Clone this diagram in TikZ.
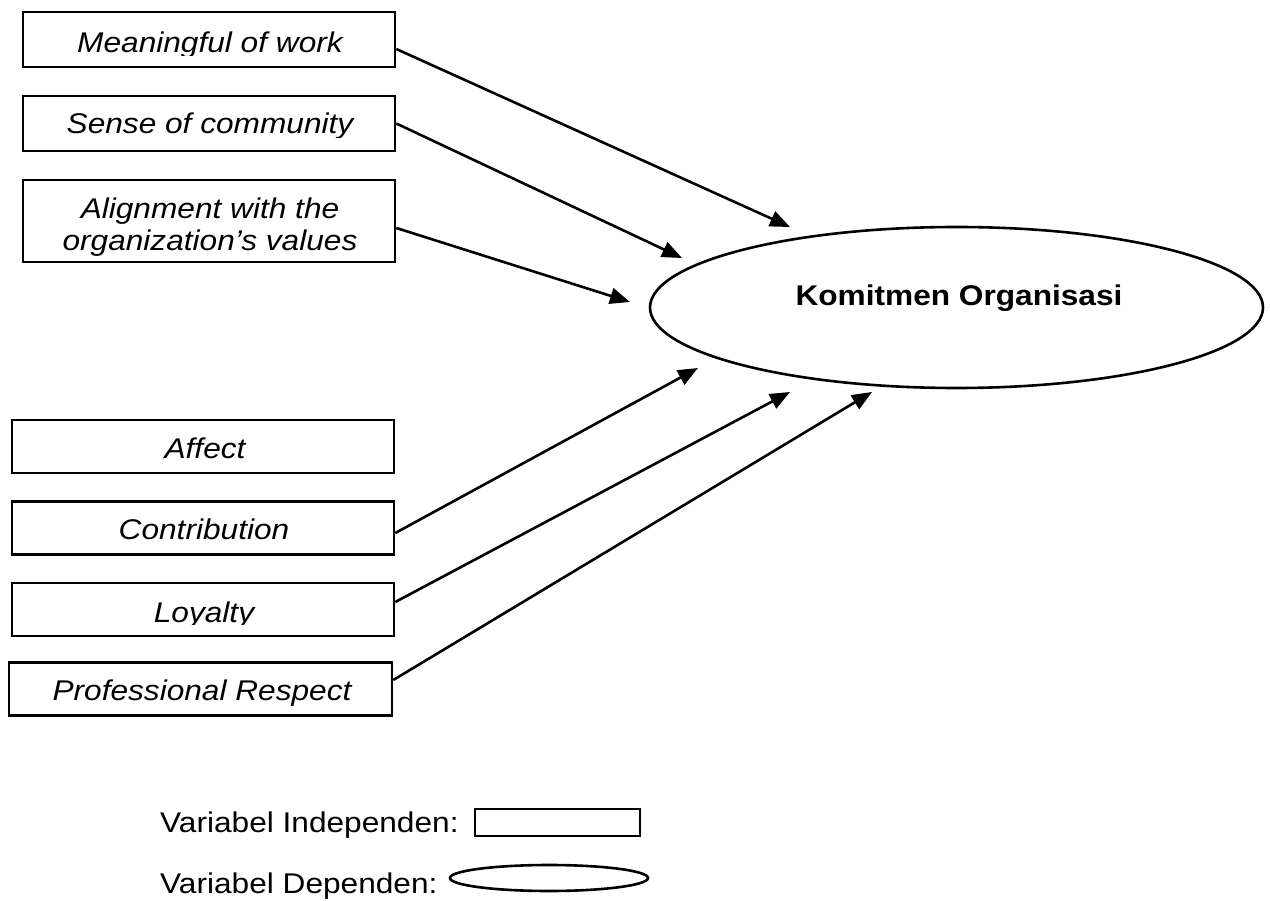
\documentclass[tikz,border=0pt]{standalone}
\usepackage{fontspec}
\setmainfont{Liberation Sans}[FakeStretch=1.11]
\usetikzlibrary{arrows.meta,shapes.geometric}

\tikzset{
  varbox/.style={draw, line width=2.6pt, minimum width=372pt, minimum height=55pt, inner sep=0pt},
  varlabel/.style={inner sep=0pt, font=\fontsize{28.5}{32}\selectfont\itshape},
  legendtext/.style={inner sep=0pt, anchor=base west, font=\fontsize{28.5}{32}\selectfont},
  link/.style={line width=2.6pt, -{Triangle[length=20pt,width=16pt]}},
}

\begin{document}
\begin{tikzpicture}[x=1pt,y=-1pt]
  \useasboundingbox (0,0) rectangle (1270,901);
  % independent variables, upper group
  \node[varbox] (meaning) at (209,39.5) {};
  \node[varbox] (community) at (209,123.5) {};
  \node[varbox, minimum height=82pt] (alignment) at (209,221) {};
  \begin{scope}
    \clip (23,12) rectangle (395,56);
    \node[varlabel, anchor=base] (meaningText) at (210,53) {Meaningful of work};
  \end{scope}
  \begin{scope}
    \clip (23,96) rectangle (395,138);
    \node[varlabel, anchor=base] (communityText) at (210,134) {Sense of community};
  \end{scope}
  \node[varlabel, align=center] (alignmentText) at (210,227)
    {Alignment with the\\organization’s values};
  % independent variables, lower group
  \node[varbox, minimum width=382pt, minimum height=53pt] (affect) at (203,446.5) {};
  \node[varbox, minimum width=382pt, minimum height=53pt] (contribution) at (203,528) {};
  \node[varbox, minimum width=382pt, minimum height=53pt] (loyalty) at (203,609.5) {};
  \node[varbox, minimum width=383pt, minimum height=53pt] (respect) at (200.5,689) {};
  \node[varlabel, anchor=base] (affectText) at (205,458) {Affect};
  \node[varlabel, anchor=base] (contributionText) at (204,539) {Contribution};
  \begin{scope}
    \clip (12,583) rectangle (394,624);
    \node[varlabel, anchor=base] (loyaltyText) at (204,622) {Loyalty};
  \end{scope}
  \node[varlabel, anchor=base] (respectText) at (202,700) {Professional Respect};
  % dependent variable
  \node[draw, ellipse, line width=2.6pt, minimum width=613pt, minimum height=161pt,
    inner sep=0pt] (komitmen) at (956.5,307.5) {};
  \node[inner sep=0pt, anchor=base, font=\fontsize{28.5}{32}\selectfont\bfseries]
    (komitmenText) at (959,306) {Komitmen Organisasi};
  % arrow tips
  \coordinate (toMeaning) at (790,227);
  \coordinate (toCommunity) at (682,258);
  \coordinate (toAlignment) at (630,302);
  \coordinate (toContribution) at (698,368);
  \coordinate (toLoyalty) at (790,392);
  \coordinate (toRespect) at (872,392);
  \draw[link] ([yshift=-9.5pt]meaning.east) -- (toMeaning);
  \draw[link] (community.east) -- (toCommunity);
  \draw[link] ([yshift=-7pt]alignment.east) -- (toAlignment);
  \draw[link] ([yshift=-5pt]contribution.east) -- (toContribution);
  \draw[link] ([yshift=7.5pt]loyalty.east) -- (toLoyalty);
  \draw[link] ([yshift=9pt]respect.east) -- (toRespect);
  % legend
  \node[legendtext] (indepText) at (160,832) {Variabel Independen:};
  \node[draw, line width=2.6pt, minimum width=165pt, minimum height=27pt, inner sep=0pt]
    (indepKey) at (557.5,822.5) {};
  \node[legendtext] (depText) at (160,893) {Variabel Dependen:};
  \node[draw, ellipse, line width=2.6pt, minimum width=198pt, minimum height=26pt,
    inner sep=0pt] (depKey) at (549,878) {};
\end{tikzpicture}
\end{document}
